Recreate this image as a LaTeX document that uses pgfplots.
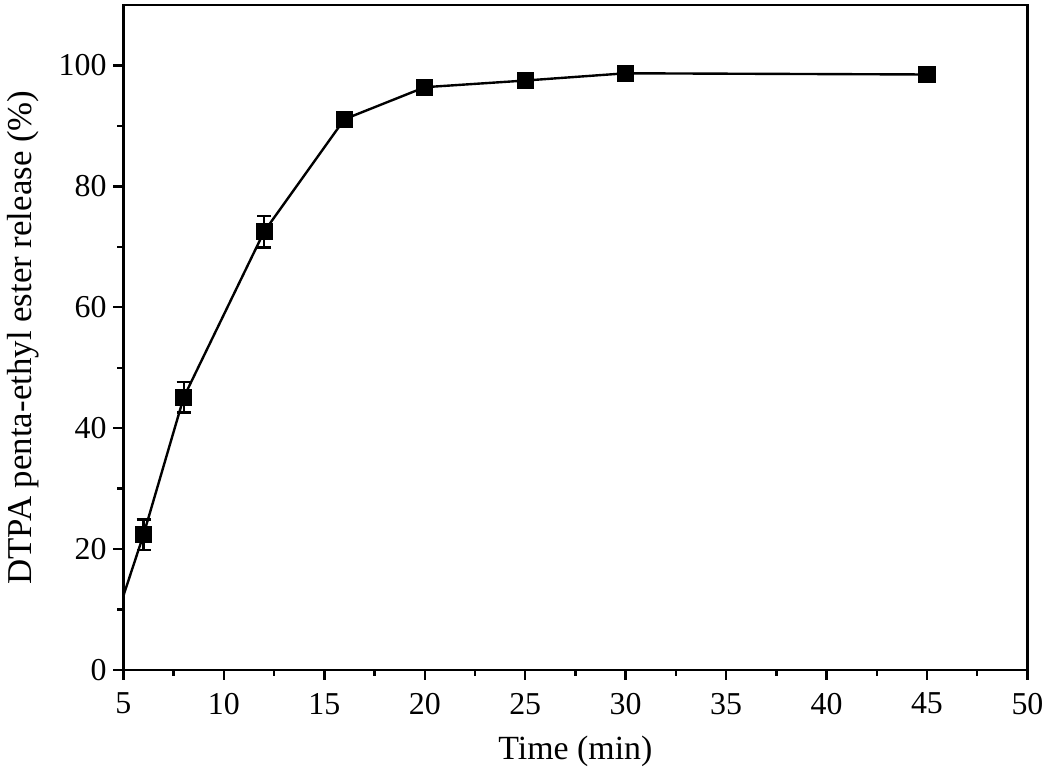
\documentclass[border=0pt]{standalone}
\usepackage{fontspec}
\setmainfont{Liberation Serif}
\usepackage{pgfplots}
\pgfplotsset{compat=1.18}

\begin{document}
\begin{tikzpicture}
\begin{axis}[
    scale only axis,
    width=454pt, height=334pt,
    xmin=5, xmax=50, ymin=0, ymax=110,
    xtick={5,10,...,50}, ytick={0,20,...,100},
    minor x tick num=1, minor y tick num=1,
    tick align=outside, xtick pos=bottom, ytick pos=left,
    major tick length=5pt, minor tick length=3pt,
    axis line style={line width=1.2pt},
    every tick/.style={line width=1.2pt, black},
    tick label style={font=\fontsize{16}{18}\selectfont},
    xticklabel style={yshift=-3pt},
    xlabel style={font=\fontsize{17}{19}\selectfont, yshift=-4pt},
    ylabel style={font=\fontsize{17.5}{20}\selectfont, yshift=3pt},
    /pgf/number format/assume math mode=true,
    xlabel={Time (min)},
    ylabel={DTPA penta-ethyl ester release (\%)},
]
\addplot[black, line width=1.2pt, mark=none, forget plot] coordinates {(5,12.3) (6,22.4)};
\addplot[black, line width=1.2pt, mark=square*, mark size=3.7pt,
    error bars/.cd, y dir=both, y explicit,
    error bar style={line width=1.1pt},
    error mark options={rotate=90, mark size=3.5pt, line width=1.1pt}]
coordinates {
    (6,22.4) +- (0,2.5)
    (8,45.1) +- (0,2.5)
    (12,72.5) +- (0,2.6)
    (16,91.1) +- (0,0.8)
    (20,96.4) +- (0,1.1)
    (25,97.5) +- (0,0.8)
    (30,98.7) +- (0,0.6)
    (45,98.5) +- (0,1.0)
};
\end{axis}
\path (current axis.south west) ++(-62pt,-51pt) (current axis.north east) ++(9pt,2.5pt);
\end{tikzpicture}
\end{document}
